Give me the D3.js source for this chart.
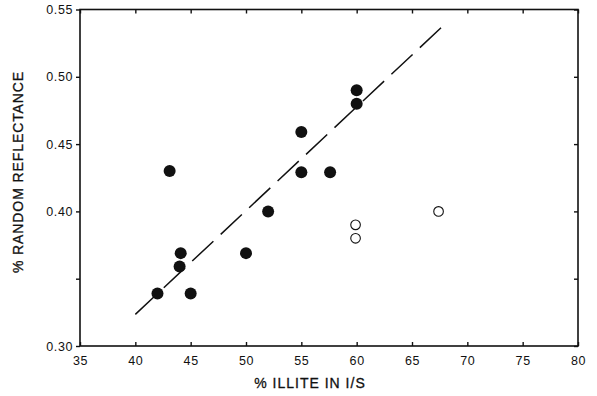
<!DOCTYPE html>
<html><head><meta charset="utf-8">
<script src="https://cdn.jsdelivr.net/npm/d3@7"></script>
<style>body{margin:0;background:#fff}svg{display:block}text{font-family:"Liberation Sans",Arial,sans-serif;fill:#111}</style>
</head><body>
<script>
const filledX = [42, 44.1, 44, 45, 52, 50, 43.1, 55, 55, 57.6, 60, 60];
const filledY = [0.339, 0.369, 0.359, 0.339, 0.40, 0.369, 0.43, 0.459, 0.429, 0.429, 0.490, 0.480];
const openX = [59.9, 59.9, 67.4];
const openY = [0.390, 0.380, 0.400];
const lineX = [40, 67.7];
const lineY = [0.3235, 0.537];
const xTicks = [35, 40, 45, 50, 55, 60, 65, 70, 75, 80];
const yTicks = [0.30, 0.35, 0.40, 0.45, 0.50, 0.55];
const yTickLabels = ["0.30", "", "0.40", "0.45", "0.50", "0.55"];

const W = 597, H = 396;
const m = {l: 80, r: 19, t: 9.5, b: 50};
const svg = d3.select("body").append("svg").attr("width", W).attr("height", H);
const x = d3.scaleLinear().domain([35, 80]).range([m.l, W - m.r]);
const y = d3.scaleLinear().domain([0.30, 0.55]).range([H - m.b, m.t]);

const g = svg.append("g");
g.append("rect").attr("x", x(35)).attr("y", y(0.55)).attr("width", x(80) - x(35)).attr("height", y(0.30) - y(0.55))
  .attr("fill", "none").attr("stroke", "#111").attr("stroke-width", 1.6);

const ax = (sel) => sel.selectAll(".domain").remove();
g.append("g").attr("transform", `translate(0,${y(0.30)})`)
  .call(d3.axisBottom(x).tickValues(xTicks).tickSize(-4).tickPadding(10).tickFormat(d3.format("d"))).call(ax);
g.append("g").attr("transform", `translate(0,${y(0.55)})`)
  .call(d3.axisTop(x).tickValues(xTicks).tickSize(-4).tickFormat("")).call(ax);
g.append("g").attr("transform", `translate(${x(35)},0)`)
  .call(d3.axisLeft(y).tickValues(yTicks).tickSize(4).tickPadding(3).tickFormat((d, i) => yTickLabels[i])).call(ax);
g.append("g").attr("transform", `translate(${x(80)},0)`)
  .call(d3.axisRight(y).tickValues(yTicks).tickSize(-4).tickFormat("")).call(ax);
svg.selectAll(".tick line").attr("stroke", "#111").attr("stroke-width", 1.4);
svg.selectAll(".tick text").style("font-size", "12.5px").style("letter-spacing", "0.6px").attr("fill", "#111");

svg.append("line").attr("x1", x(lineX[0])).attr("y1", y(lineY[0])).attr("x2", x(lineX[1])).attr("y2", y(lineY[1]))
  .attr("stroke", "#111").attr("stroke-width", 1.5).attr("stroke-dasharray", "29,10");

svg.append("g").selectAll("circle").data(filledX).join("circle")
  .attr("cx", d => x(d)).attr("cy", (d, i) => y(filledY[i])).attr("r", 6).attr("fill", "#111");
svg.append("g").selectAll("circle").data(openX).join("circle")
  .attr("cx", d => x(d)).attr("cy", (d, i) => y(openY[i])).attr("r", 4.8)
  .attr("fill", "#fff").attr("stroke", "#111").attr("stroke-width", 1.1);

svg.append("text").attr("x", 310).attr("y", 388).attr("text-anchor", "middle").style("font-size", "14px")
  .style("letter-spacing", "1px").attr("stroke", "#111").attr("stroke-width", 0.3).text("% ILLITE IN I/S");
svg.append("text").attr("transform", "translate(23,172) rotate(-90)").attr("text-anchor", "middle").style("font-size", "14px")
  .style("letter-spacing", "0.9px").attr("stroke", "#111").attr("stroke-width", 0.3).text("% RANDOM REFLECTANCE");
</script>
</body></html>
